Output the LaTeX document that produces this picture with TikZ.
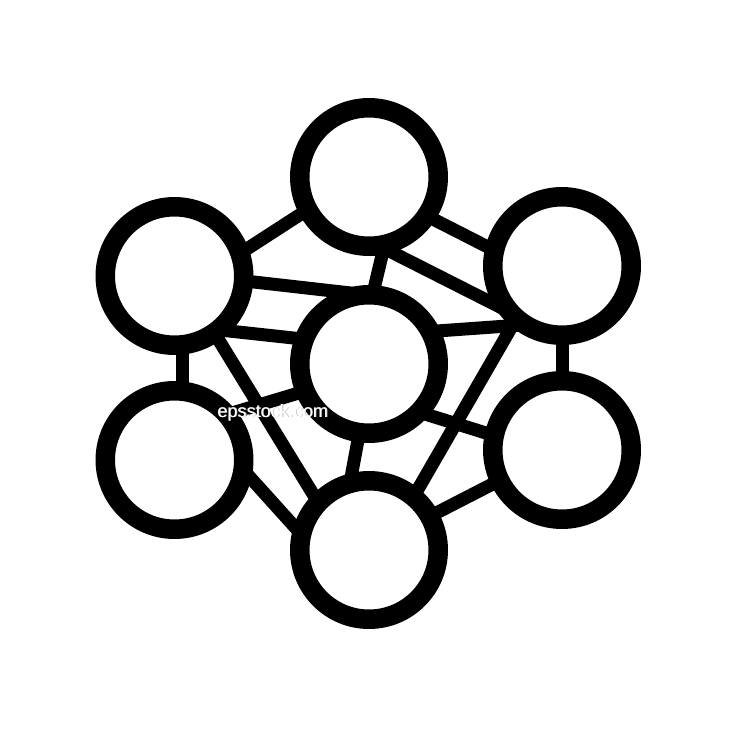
\documentclass[tikz,border=0pt]{standalone}
\usepackage{fontspec}
\newfontfamily\wmfont{Liberation Sans}
\usetikzlibrary{backgrounds}
\begin{document}
\begin{tikzpicture}[x=0.02cm,y=-0.02cm,
  ring/.style={circle,draw=black,fill=white,line width=11.1pt,minimum size=2.77cm,inner sep=0pt,outer sep=0pt},
  link/.style={draw=black,line width=7.4pt,line cap=butt},
  wmtext/.style={anchor=base west,inner sep=0pt,font=\wmfont\fontsize{10.3pt}{12pt}\selectfont}]
\useasboundingbox (0,0) rectangle (750,750);
\node[ring] (T)  at (369,177) {};
\node[ring] (LU) at (174.5,276) {};
\node[ring] (RU) at (562,266) {};
\node[ring] (C)  at (369,364) {};
\node[ring] (LL) at (174.5,460) {};
\node[ring] (RL) at (562,450) {};
\node[ring] (B)  at (369,550) {};
\begin{scope}[on background layer]
\fill[white] (0,0) rectangle (750,750);
\draw[link] (LU.19) -- (T.208);
\draw[link] (T.-34.5) -- (RU.167);
\draw[link] (T.-82.4) -- (RU.222.8);
\draw[link] (T.-77.6) -- (C.87.5);
\draw[link] (LU.-4.3) -- (C.92);
\draw[link] (LU.-51.6) -- (C.159);
\draw[link] (LU.-83.5) -- (LL.83.5);
\draw[link] (RU.-90) -- (RL.90);
\draw[link] (LU.-55) -- (B.137);
\draw[link] (LL.41) -- (C.203);
\draw[link] (LL.-8.5) -- (B.167);
\draw[link] (C.262) -- (B.106.5);
\draw[link] (C.-44) -- (RL.168);
\draw[link] (RU.229) -- (B.50);
\draw[link] (B.29) -- (RL.206.6);
\draw[link] (C.28) -- (RU.238);
\end{scope}
\node[wmtext,text=black!25] (wmshadow) at (217.8,417.8) {epsstock.com};
\node[wmtext,text=white] (wm) at (217,417) {epsstock.com};
\end{tikzpicture}
\end{document}
